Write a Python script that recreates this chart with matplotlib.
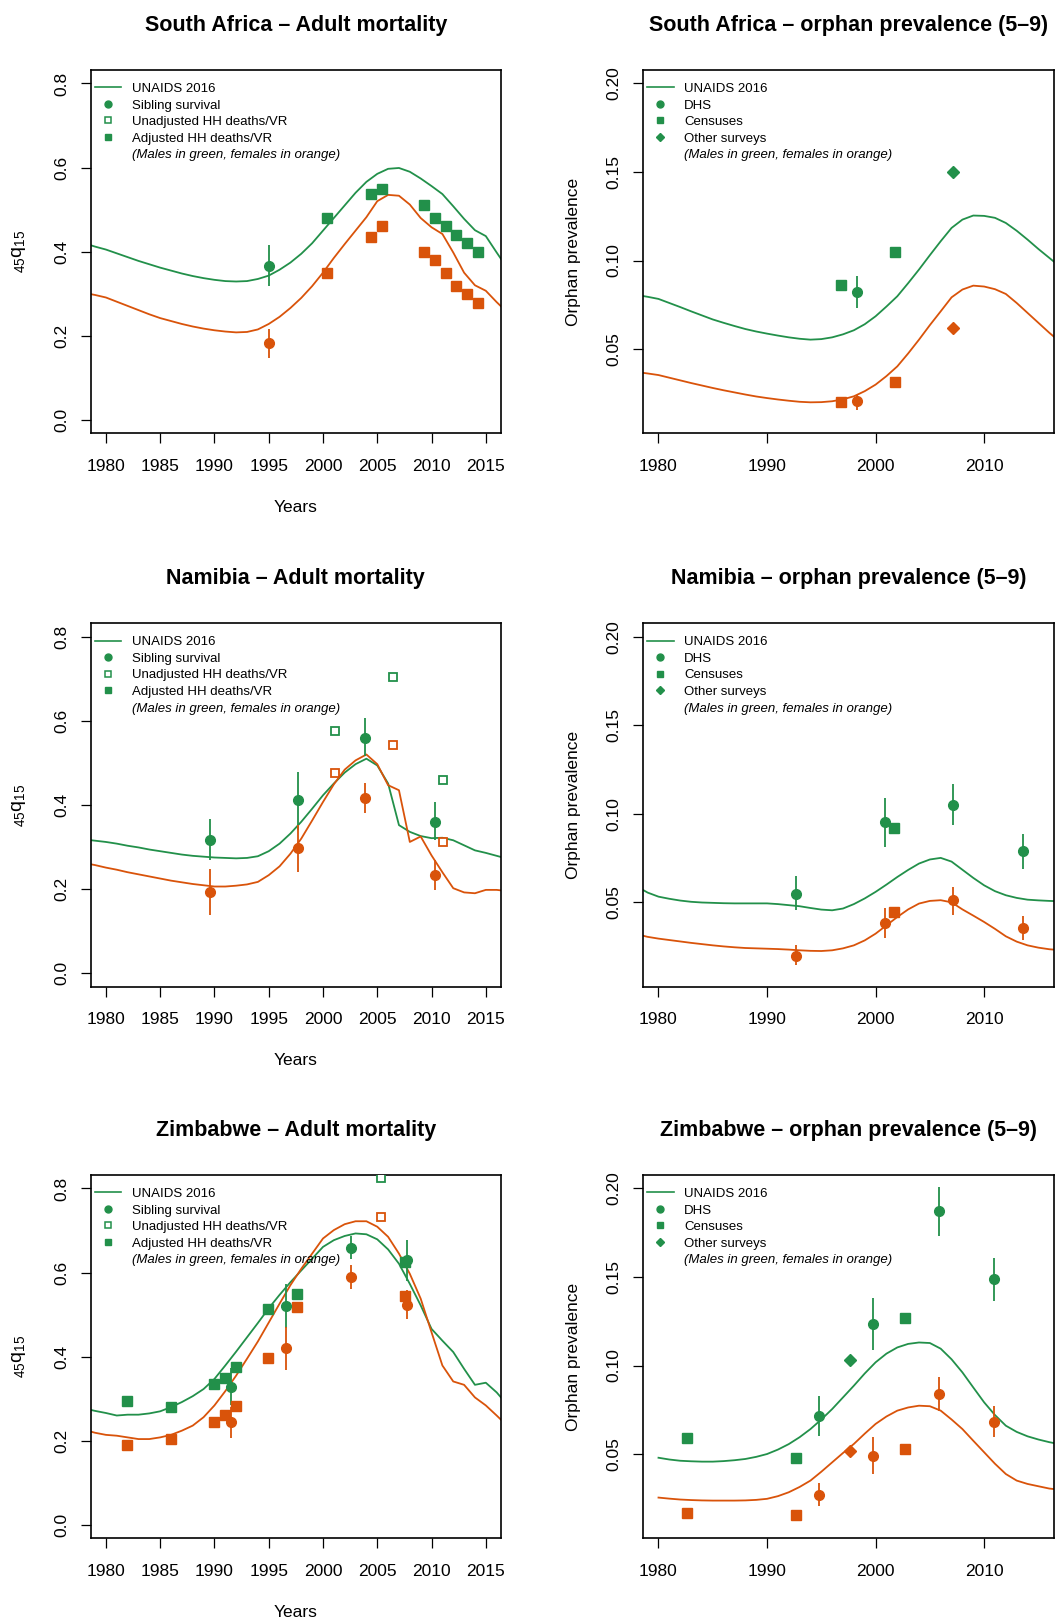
import matplotlib
matplotlib.use("Agg")
import matplotlib.pyplot as plt
from matplotlib.lines import Line2D
import numpy as np

plt.rcParams['font.family'] = ['Liberation Sans', 'DejaVu Sans']
plt.rcParams['mathtext.fontset'] = 'custom'
plt.rcParams['mathtext.rm'] = 'Liberation Sans'

GREEN = '#22904a'
ORANGE = '#d9530a'

# ---------------- UNAIDS 2016 curves ----------------
years_all = np.arange(1978, 2018)
years_zw_orph = np.arange(1980, 2018)

sa_adult_m = [0.420, 0.412, 0.405, 0.396, 0.387, 0.378, 0.370, 0.362, 0.355, 0.348,
              0.342, 0.337, 0.333, 0.330, 0.329, 0.330, 0.335, 0.343, 0.357, 0.374,
              0.395, 0.420, 0.450, 0.480, 0.510, 0.540, 0.566, 0.585, 0.597, 0.599,
              0.590, 0.574, 0.556, 0.537, 0.508, 0.478, 0.451, 0.437, 0.398, 0.360]
sa_adult_f = [0.302, 0.297, 0.291, 0.281, 0.271, 0.261, 0.251, 0.242, 0.235, 0.228,
              0.222, 0.217, 0.213, 0.210, 0.208, 0.209, 0.215, 0.228, 0.245, 0.266,
              0.290, 0.318, 0.350, 0.385, 0.418, 0.450, 0.482, 0.520, 0.535, 0.533,
              0.512, 0.480, 0.458, 0.442, 0.398, 0.350, 0.320, 0.307, 0.280, 0.255]

sa_orph_m = [0.0805, 0.0795, 0.0783, 0.0760, 0.0737, 0.0713, 0.0690, 0.0667, 0.0648, 0.0630,
             0.0613, 0.0599, 0.0587, 0.0576, 0.0566, 0.0558, 0.0553, 0.0556, 0.0566, 0.0583,
             0.0606, 0.0640, 0.0685, 0.0740, 0.0798, 0.0872, 0.0949, 0.1030, 0.1109, 0.1184,
             0.1231, 0.1254, 0.1252, 0.1241, 0.1212, 0.1168, 0.1118, 0.1065, 0.1015, 0.0965]
sa_orph_f = [0.0370, 0.0362, 0.0353, 0.0338, 0.0323, 0.0308, 0.0294, 0.0280, 0.0267, 0.0255,
             0.0243, 0.0232, 0.0223, 0.0215, 0.0208, 0.0202, 0.0199, 0.0200, 0.0205, 0.0216,
             0.0233, 0.0262, 0.0299, 0.0347, 0.0402, 0.0475, 0.0553, 0.0635, 0.0713, 0.0792,
             0.0836, 0.0858, 0.0853, 0.0838, 0.0811, 0.0760, 0.0704, 0.0648, 0.0592, 0.0540]

na_adult_m = [0.318, 0.315, 0.312, 0.308, 0.303, 0.299, 0.294, 0.290, 0.286, 0.282,
              0.279, 0.277, 0.275, 0.274, 0.273, 0.274, 0.278, 0.290, 0.308, 0.332,
              0.360, 0.391, 0.423, 0.451, 0.477, 0.497, 0.510, 0.494, 0.451, 0.352,
              0.336, 0.326, 0.321, 0.322, 0.316, 0.304, 0.292, 0.286, 0.279, 0.272]
na_adult_f = [0.262, 0.257, 0.251, 0.246, 0.240, 0.235, 0.230, 0.225, 0.220, 0.216,
              0.212, 0.209, 0.206, 0.206, 0.208, 0.211, 0.217, 0.233, 0.254, 0.284,
              0.320, 0.363, 0.407, 0.449, 0.484, 0.506, 0.520, 0.497, 0.447, 0.435,
              0.312, 0.325, 0.280, 0.240, 0.202, 0.192, 0.190, 0.198, 0.198, 0.195]

na_orph_m = [0.0590, 0.0555, 0.0532, 0.0520, 0.0510, 0.0503, 0.0499, 0.0497, 0.0495, 0.0494,
             0.0494, 0.0494, 0.0494, 0.0490, 0.0484, 0.0478, 0.0468, 0.0459, 0.0455, 0.0465,
             0.0490, 0.0522, 0.0559, 0.0600, 0.0643, 0.0683, 0.0719, 0.0742, 0.0751, 0.0730,
             0.0684, 0.0638, 0.0596, 0.0563, 0.0540, 0.0525, 0.0515, 0.0511, 0.0508, 0.0506]
na_orph_f = [0.0320, 0.0305, 0.0295, 0.0287, 0.0279, 0.0271, 0.0264, 0.0257, 0.0251, 0.0246,
             0.0242, 0.0240, 0.0238, 0.0236, 0.0233, 0.0229, 0.0226, 0.0225, 0.0229, 0.0240,
             0.0257, 0.0285, 0.0323, 0.0370, 0.0417, 0.0460, 0.0493, 0.0508, 0.0512, 0.0500,
             0.0460, 0.0425, 0.0389, 0.0350, 0.0308, 0.0278, 0.0257, 0.0244, 0.0235, 0.0230]

zw_adult_m = [0.277, 0.271, 0.266, 0.260, 0.262, 0.262, 0.265, 0.270, 0.280, 0.292,
              0.306, 0.323, 0.347, 0.379, 0.412, 0.446, 0.480, 0.515, 0.547, 0.577,
              0.605, 0.633, 0.661, 0.677, 0.687, 0.693, 0.691, 0.679, 0.655, 0.621,
              0.573, 0.522, 0.466, 0.438, 0.411, 0.371, 0.333, 0.338, 0.315, 0.285]
zw_adult_f = [0.226, 0.219, 0.214, 0.212, 0.208, 0.204, 0.204, 0.208, 0.214, 0.224,
              0.236, 0.256, 0.284, 0.318, 0.355, 0.395, 0.436, 0.481, 0.526, 0.570,
              0.609, 0.645, 0.681, 0.701, 0.715, 0.722, 0.722, 0.709, 0.685, 0.645,
              0.597, 0.538, 0.458, 0.379, 0.341, 0.333, 0.303, 0.284, 0.260, 0.235]

zw_orph_m = [0.0479, 0.0469, 0.0462, 0.0459, 0.0457, 0.0457, 0.0460, 0.0465, 0.0472, 0.0484,
             0.0500, 0.0525, 0.0556, 0.0595, 0.0641, 0.0695, 0.0754, 0.0820, 0.0886, 0.0955,
             0.1018, 0.1067, 0.1102, 0.1122, 0.1130, 0.1127, 0.1095, 0.1035, 0.0961, 0.0876,
             0.0792, 0.0720, 0.0660, 0.0625, 0.0600, 0.0582, 0.0567, 0.0555]
zw_orph_f = [0.0254, 0.0248, 0.0243, 0.0240, 0.0238, 0.0237, 0.0237, 0.0237, 0.0238, 0.0241,
             0.0247, 0.0262, 0.0284, 0.0314, 0.0350, 0.0400, 0.0453, 0.0506, 0.0557, 0.0615,
             0.0670, 0.0712, 0.0745, 0.0763, 0.0773, 0.0770, 0.0745, 0.0695, 0.0641, 0.0575,
             0.0510, 0.0445, 0.0387, 0.0350, 0.0331, 0.0318, 0.0305, 0.0298]

# ---------------- observations ----------------
# sibling survival / DHS: (estimate, lower, upper)
sa_sib_yr = [1995.07]
sa_sib_m = [(0.367, 0.319, 0.417)]
sa_sib_f = [(0.182, 0.148, 0.216)]
sa_adj_yr = [2000.4, 2004.4, 2005.4, 2009.3, 2010.3, 2011.3, 2012.3, 2013.3, 2014.3]
sa_adj_m = [0.479, 0.537, 0.550, 0.510, 0.479, 0.460, 0.440, 0.420, 0.400]
sa_adj_f = [0.349, 0.434, 0.460, 0.400, 0.379, 0.349, 0.319, 0.299, 0.279]

sa_dhs_yr = [1998.25]
sa_dhs_m = [(0.0824, 0.0732, 0.0915)]
sa_dhs_f = [(0.0205, 0.0157, 0.0242)]
sa_cen_yr = [1996.8, 2001.8]
sa_cen_m = [0.086, 0.105]
sa_cen_f = [0.020, 0.0316]
sa_oth_yr = [2007.1]
sa_oth_m = [0.150]
sa_oth_f = [0.062]

na_sib_yr = [1989.56, 1997.74, 2003.87, 2010.33]
na_sib_m = [(0.317, 0.270, 0.367), (0.411, 0.340, 0.478), (0.560, 0.517, 0.606), (0.360, 0.316, 0.406)]
na_sib_f = [(0.193, 0.139, 0.248), (0.298, 0.240, 0.352), (0.417, 0.381, 0.452), (0.233, 0.197, 0.268)]
na_unadj_yr = [2001.1, 2006.44, 2011.1]
na_unadj_m = [0.576, 0.705, 0.459]
na_unadj_f = [0.476, 0.542, 0.313]

na_dhs_yr = [1992.7, 2000.86, 2007.09, 2013.56]
na_dhs_m = [(0.0549, 0.0455, 0.0647), (0.0953, 0.0813, 0.1092), (0.1050, 0.0936, 0.1167), (0.0791, 0.0691, 0.0888)]
na_dhs_f = [(0.0197, 0.0144, 0.0257), (0.0383, 0.0300, 0.0470), (0.0512, 0.0431, 0.0587), (0.0355, 0.0289, 0.0421)]
na_cen_yr = [2001.69]
na_cen_m = [0.0917]
na_cen_f = [0.0446]

zw_sib_yr = [1991.55, 1996.6, 2002.58, 2007.7]
zw_sib_m = [(0.329, 0.284, 0.373), (0.520, 0.468, 0.573), (0.659, 0.633, 0.687), (0.629, 0.579, 0.677)]
zw_sib_f = [(0.244, 0.206, 0.280), (0.421, 0.368, 0.470), (0.589, 0.562, 0.617), (0.524, 0.490, 0.558)]
zw_adj_yr = [1981.99, 1986.0, 1989.99, 1991.0, 1991.98, 1994.98, 1997.6, 2007.57]
zw_adj_m = [0.295, 0.281, 0.336, 0.350, 0.376, 0.514, 0.550, 0.624]
zw_adj_f = [0.189, 0.204, 0.244, 0.261, 0.282, 0.397, 0.517, 0.545]
zw_unadj_yr = [2005.34]
zw_unadj_m = [0.824]
zw_unadj_f = [0.732]

zw_dhs_yr = [1994.75, 1999.78, 2005.83, 2010.95]
zw_dhs_m = [(0.0716, 0.0604, 0.0829), (0.1236, 0.1089, 0.1381), (0.1870, 0.1733, 0.2010), (0.1488, 0.1366, 0.1610)]
zw_dhs_f = [(0.0270, 0.0208, 0.0334), (0.0491, 0.0387, 0.0594), (0.0839, 0.0745, 0.0933), (0.0683, 0.0594, 0.0773)]
zw_cen_yr = [1982.64, 1992.64, 2002.67]
zw_cen_m = [0.0589, 0.0478, 0.127]
zw_cen_f = [0.0165, 0.0154, 0.053]
zw_oth_yr = [1997.64]
zw_oth_m = [0.1031]
zw_oth_f = [0.0519]

adult_ticks = [1980, 1985, 1990, 1995, 2000, 2005, 2010, 2015]
orph_ticks = [1980, 1990, 2000, 2010]
adult_yticks = [0.0, 0.2, 0.4, 0.6, 0.8]
orph_yticks = [0.05, 0.10, 0.15, 0.20]

XLIM = (1978.6, 2016.4)


def style_axis(ax, xticks, yticks, ylim):
    ax.set_xlim(*XLIM)
    ax.set_ylim(*ylim)
    ax.set_xticks(xticks)
    ax.set_yticks(yticks)
    ax.set_yticklabels(['%.1f' % v if ylim[1] > 0.5 else '%.2f' % v for v in yticks],
                       rotation=90, va='center')
    ax.tick_params(direction='out', length=7, width=0.9, labelsize=12.5)
    ax.tick_params(axis='x', pad=11.5)
    ax.tick_params(axis='y', pad=8.5)
    for s in ax.spines.values():
        s.set_linewidth(1.2)


def draw_ci(ax, yrs, vals, color, marker, ms):
    est = [v[0] for v in vals]
    ax.vlines(yrs, [v[1] for v in vals], [v[2] for v in vals], color=color, lw=1.3, zorder=3)
    ax.plot(yrs, est, ls='none', marker=marker, ms=ms, color=color, mec=color, zorder=4)


def add_legend(ax, handles, labels):
    leg = ax.legend(handles, labels, loc='upper left', bbox_to_anchor=(0.0, 0.976),
                    frameon=False, fontsize=9.5,
                    handlelength=2.0, handletextpad=0.8, labelspacing=0.33,
                    borderaxespad=0.0, borderpad=0.3)
    leg.get_texts()[-1].set_style('italic')


def adult_legend(ax):
    h = [Line2D([], [], color=GREEN, lw=1.2),
         Line2D([], [], ls='none', marker='o', ms=5, color=GREEN),
         Line2D([], [], ls='none', marker='s', ms=4.5, mfc='white', mec=GREEN, mew=1.1),
         Line2D([], [], ls='none', marker='s', ms=4.5, color=GREEN),
         Line2D([], [], ls='none')]
    labs = ['UNAIDS 2016', 'Sibling survival', 'Unadjusted HH deaths/VR',
            'Adjusted HH deaths/VR', '(Males in green, females in orange)']
    add_legend(ax, h, labs)


def orph_legend(ax):
    h = [Line2D([], [], color=GREEN, lw=1.2),
         Line2D([], [], ls='none', marker='o', ms=5, color=GREEN),
         Line2D([], [], ls='none', marker='s', ms=4.5, color=GREEN),
         Line2D([], [], ls='none', marker='D', ms=4.5, color=GREEN),
         Line2D([], [], ls='none')]
    labs = ['UNAIDS 2016', 'DHS', 'Censuses', 'Other surveys',
            '(Males in green, females in orange)']
    add_legend(ax, h, labs)


fig = plt.figure(figsize=(10.55, 16.23), dpi=100)
W, H = 1055.0, 1623.0
lefts = [90.7, 643.3]
tops = [70, 623.3, 1175]
aw, ah = 410.3, 363.3
axes = {}
for r, t in enumerate(tops):
    for c, l in enumerate(lefts):
        axes[(r, c)] = fig.add_axes([l / W, 1 - (t + ah) / H, aw / W, ah / H])

adult_ylim = (-0.032, 0.832)
orph_ylim = (0.0024, 0.2076)

countries = [
    ('South Africa', years_all, sa_adult_m, sa_adult_f, years_all, sa_orph_m, sa_orph_f),
    ('Namibia', years_all, na_adult_m, na_adult_f, years_all, na_orph_m, na_orph_f),
    ('Zimbabwe', years_all, zw_adult_m, zw_adult_f, years_zw_orph, zw_orph_m, zw_orph_f),
]

for r, (name, ya, am, af, yo, om, of) in enumerate(countries):
    ax = axes[(r, 0)]
    ax.plot(ya, am, color=GREEN, lw=1.3, zorder=2)
    ax.plot(ya, af, color=ORANGE, lw=1.3, zorder=2)
    style_axis(ax, adult_ticks, adult_yticks, adult_ylim)
    ax.set_title(name + ' \u2013 Adult mortality', fontsize=15.5, fontweight='bold', pad=28.4)
    ax.set_xlabel('Years', fontsize=12.5, labelpad=18.5)
    ax.set_ylabel(r'$_{45}\mathrm{q}_{15}$', fontsize=14, labelpad=19)
    adult_legend(ax)

    ax2 = axes[(r, 1)]
    ax2.plot(yo, om, color=GREEN, lw=1.3, zorder=2)
    ax2.plot(yo, of, color=ORANGE, lw=1.3, zorder=2)
    style_axis(ax2, orph_ticks, orph_yticks, orph_ylim)
    ax2.set_title(name + ' \u2013 orphan prevalence (5\u20139)', fontsize=15.5,
                  fontweight='bold', pad=28.4)
    ax2.set_ylabel('Orphan prevalence', fontsize=12.5, labelpad=18.5)
    orph_legend(ax2)

# South Africa points
ax = axes[(0, 0)]
draw_ci(ax, sa_sib_yr, sa_sib_m, GREEN, 'o', 7)
draw_ci(ax, sa_sib_yr, sa_sib_f, ORANGE, 'o', 7)
ax.plot(sa_adj_yr, sa_adj_m, ls='none', marker='s', ms=6.5, color=GREEN, zorder=4)
ax.plot(sa_adj_yr, sa_adj_f, ls='none', marker='s', ms=6.5, color=ORANGE, zorder=4)

ax = axes[(0, 1)]
draw_ci(ax, sa_dhs_yr, sa_dhs_m, GREEN, 'o', 7)
draw_ci(ax, sa_dhs_yr, sa_dhs_f, ORANGE, 'o', 7)
ax.plot(sa_cen_yr, sa_cen_m, ls='none', marker='s', ms=6.5, color=GREEN, zorder=4)
ax.plot(sa_cen_yr, sa_cen_f, ls='none', marker='s', ms=6.5, color=ORANGE, zorder=4)
ax.plot(sa_oth_yr, sa_oth_m, ls='none', marker='D', ms=6, color=GREEN, zorder=4)
ax.plot(sa_oth_yr, sa_oth_f, ls='none', marker='D', ms=6, color=ORANGE, zorder=4)

# Namibia points
ax = axes[(1, 0)]
draw_ci(ax, na_sib_yr, na_sib_m, GREEN, 'o', 7)
draw_ci(ax, na_sib_yr, na_sib_f, ORANGE, 'o', 7)
ax.plot(na_unadj_yr, na_unadj_m, ls='none', marker='s', ms=6, mfc='white', mec=GREEN, mew=1.3, zorder=4)
ax.plot(na_unadj_yr, na_unadj_f, ls='none', marker='s', ms=6, mfc='white', mec=ORANGE, mew=1.3, zorder=4)

ax = axes[(1, 1)]
draw_ci(ax, na_dhs_yr, na_dhs_m, GREEN, 'o', 7)
draw_ci(ax, na_dhs_yr, na_dhs_f, ORANGE, 'o', 7)
ax.plot(na_cen_yr, na_cen_m, ls='none', marker='s', ms=6.5, color=GREEN, zorder=4)
ax.plot(na_cen_yr, na_cen_f, ls='none', marker='s', ms=6.5, color=ORANGE, zorder=4)

# Zimbabwe points
ax = axes[(2, 0)]
ax.plot(zw_adj_yr, zw_adj_m, ls='none', marker='s', ms=6.5, color=GREEN, zorder=4)
ax.plot(zw_adj_yr, zw_adj_f, ls='none', marker='s', ms=6.5, color=ORANGE, zorder=4)
draw_ci(ax, zw_sib_yr, zw_sib_m, GREEN, 'o', 7)
draw_ci(ax, zw_sib_yr, zw_sib_f, ORANGE, 'o', 7)
ax.plot(zw_unadj_yr, zw_unadj_m, ls='none', marker='s', ms=6, mfc='white', mec=GREEN, mew=1.3, zorder=4)
ax.plot(zw_unadj_yr, zw_unadj_f, ls='none', marker='s', ms=6, mfc='white', mec=ORANGE, mew=1.3, zorder=4)

ax = axes[(2, 1)]
draw_ci(ax, zw_dhs_yr, zw_dhs_m, GREEN, 'o', 7)
draw_ci(ax, zw_dhs_yr, zw_dhs_f, ORANGE, 'o', 7)
ax.plot(zw_cen_yr, zw_cen_m, ls='none', marker='s', ms=6.5, color=GREEN, zorder=4)
ax.plot(zw_cen_yr, zw_cen_f, ls='none', marker='s', ms=6.5, color=ORANGE, zorder=4)
ax.plot(zw_oth_yr, zw_oth_m, ls='none', marker='D', ms=6, color=GREEN, zorder=4)
ax.plot(zw_oth_yr, zw_oth_f, ls='none', marker='D', ms=6, color=ORANGE, zorder=4)

fig.savefig('out.png', dpi=100)
